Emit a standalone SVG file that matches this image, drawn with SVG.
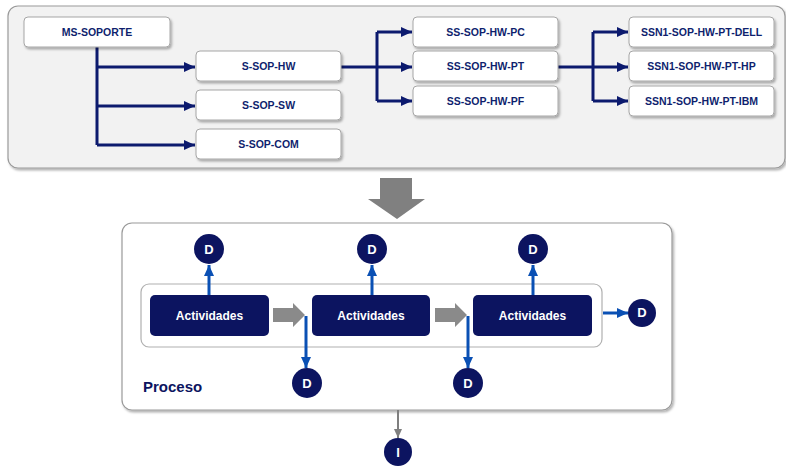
<svg xmlns="http://www.w3.org/2000/svg" width="786" height="466" viewBox="0 0 786 466">
  <defs>
    <style>
      .panel { fill: #f2f2f2; stroke: #9a9a9a; stroke-width: 1.2; }
      .box { fill: #ffffff; stroke: #a6a6a6; stroke-width: 1; }
      .lbl { font-family: "Liberation Sans", Arial, sans-serif; font-weight: bold; font-size: 10.5px; fill: #0f1f6e; text-anchor: middle; }
      .act { fill: #0c1460; }
      .actlbl { font-family: "Liberation Sans", Arial, sans-serif; font-weight: bold; font-size: 12px; fill: #ffffff; text-anchor: middle; }
      .dot { fill: #0c1460; }
      .dotlbl { font-family: "Liberation Sans", Arial, sans-serif; font-weight: bold; font-size: 13px; fill: #ffffff; text-anchor: middle; }
      .tree { fill: none; stroke: #0c1a6e; stroke-width: 3; }
      .blue { fill: none; stroke: #0a50b4; stroke-width: 3; }
      .grey { fill: none; stroke: #7f7f7f; stroke-width: 2; }
    </style>
    <filter id="shadow" x="-10%" y="-20%" width="125%" height="160%">
      <feDropShadow dx="1.5" dy="2" stdDeviation="1.2" flood-color="#000" flood-opacity="0.3"/>
    </filter>
    <marker id="navyHead" markerUnits="userSpaceOnUse" markerWidth="12" markerHeight="12" viewBox="0 0 12 12" refX="11" refY="6" orient="auto">
      <path d="M0,1 L11,6 L0,11 Z" fill="#0c1a6e"/>
    </marker>
    <marker id="blueHead" markerUnits="userSpaceOnUse" markerWidth="12" markerHeight="12" viewBox="0 0 12 12" refX="11" refY="6" orient="auto">
      <path d="M0,1 L11,6 L0,11 Z" fill="#0a50b4"/>
    </marker>
    <marker id="greyHead" markerUnits="userSpaceOnUse" markerWidth="10" markerHeight="10" viewBox="0 0 10 10" refX="9" refY="5" orient="auto">
      <path d="M0,1 L9,5 L0,9 Z" fill="#7f7f7f"/>
    </marker>
  </defs>

  <rect width="786" height="466" fill="#ffffff"/>

  <!-- upper hierarchy panel -->
  <rect class="panel" x="8" y="6" width="777" height="162" rx="10" filter="url(#shadow)"/>

  <!-- hierarchy connectors -->
  <g id="connectors">
    <path class="tree" d="M97,47 V145"/>
    <path class="tree" d="M97,67 H195" marker-end="url(#navyHead)"/>
    <path class="tree" d="M97,106 H195" marker-end="url(#navyHead)"/>
    <path class="tree" d="M97,145 H195" marker-end="url(#navyHead)"/>

    <path class="tree" d="M341,67 H377"/>
    <path class="tree" d="M377,32 V101"/>
    <path class="tree" d="M377,32 H412" marker-end="url(#navyHead)"/>
    <path class="tree" d="M377,67 H412" marker-end="url(#navyHead)"/>
    <path class="tree" d="M377,101 H412" marker-end="url(#navyHead)"/>

    <path class="tree" d="M558,67 H593"/>
    <path class="tree" d="M593,32 V101"/>
    <path class="tree" d="M593,32 H628" marker-end="url(#navyHead)"/>
    <path class="tree" d="M593,67 H628" marker-end="url(#navyHead)"/>
    <path class="tree" d="M593,101 H628" marker-end="url(#navyHead)"/>
  </g>

  <g id="ms-soporte">
    <rect class="box" x="24" y="17" width="146" height="30" rx="4" filter="url(#shadow)"/>
    <text class="lbl" x="97" y="36">MS-SOPORTE</text>
  </g>
  <g id="s-sop-hw">
    <rect class="box" x="196" y="51" width="145" height="30" rx="4" filter="url(#shadow)"/>
    <text class="lbl" x="268.5" y="70">S-SOP-HW</text>
  </g>
  <g id="s-sop-sw">
    <rect class="box" x="196" y="90" width="145" height="30" rx="4" filter="url(#shadow)"/>
    <text class="lbl" x="268.5" y="109">S-SOP-SW</text>
  </g>
  <g id="s-sop-com">
    <rect class="box" x="196" y="129" width="145" height="30" rx="4" filter="url(#shadow)"/>
    <text class="lbl" x="268.5" y="148">S-SOP-COM</text>
  </g>
  <g id="ss-sop-hw-pc">
    <rect class="box" x="413" y="17" width="145" height="30" rx="4" filter="url(#shadow)"/>
    <text class="lbl" x="485.5" y="36">SS-SOP-HW-PC</text>
  </g>
  <g id="ss-sop-hw-pt">
    <rect class="box" x="413" y="51" width="145" height="30" rx="4" filter="url(#shadow)"/>
    <text class="lbl" x="485.5" y="70">SS-SOP-HW-PT</text>
  </g>
  <g id="ss-sop-hw-pf">
    <rect class="box" x="413" y="86" width="145" height="30" rx="4" filter="url(#shadow)"/>
    <text class="lbl" x="485.5" y="105">SS-SOP-HW-PF</text>
  </g>
  <g id="ssn1-dell">
    <rect class="box" x="629" y="17" width="145" height="30" rx="4" filter="url(#shadow)"/>
    <text class="lbl" x="701.5" y="36">SSN1-SOP-HW-PT-DELL</text>
  </g>
  <g id="ssn1-hp">
    <rect class="box" x="629" y="51" width="145" height="30" rx="4" filter="url(#shadow)"/>
    <text class="lbl" x="701.5" y="70">SSN1-SOP-HW-PT-HP</text>
  </g>
  <g id="ssn1-ibm">
    <rect class="box" x="629" y="86" width="145" height="30" rx="4" filter="url(#shadow)"/>
    <text class="lbl" x="701.5" y="105">SSN1-SOP-HW-PT-IBM</text>
  </g>

  <!-- big transition arrow -->
  <path d="M380,178 H412 V199 H425 L397,219 L368,199 H380 Z" fill="#808080"/>

  <!-- process frame -->
  <g id="proceso">
    <rect x="122" y="223" width="550" height="187" rx="10" fill="#ffffff" stroke="#9a9a9a" stroke-width="1.2" filter="url(#shadow)"/>
    <rect x="141" y="284" width="461" height="63" rx="8" fill="#ffffff" stroke="#b0b0b0" stroke-width="1.2"/>
    <text x="143" y="392" font-family="Liberation Sans, Arial, sans-serif" font-weight="bold" font-size="15" fill="#0c1460">Proceso</text>
  </g>

  <!-- grey flow arrows between activities -->
  <path d="M273,308 H293 V303 L305,315 L293,327 V322 H273 Z" fill="#8a8a8a"/>
  <path d="M435,308 H455 V303 L467,315 L455,327 V322 H435 Z" fill="#8a8a8a"/>

  <g id="process-connectors">
    <path class="blue" d="M209,295 V265" marker-end="url(#blueHead)"/>
    <path class="blue" d="M372,295 V265" marker-end="url(#blueHead)"/>
    <path class="blue" d="M533,295 V265" marker-end="url(#blueHead)"/>
    <path class="blue" d="M306,316 V368" marker-end="url(#blueHead)"/>
    <path class="blue" d="M468,316 V368" marker-end="url(#blueHead)"/>
    <path class="blue" d="M603,313 H628" marker-end="url(#blueHead)"/>
    <path class="grey" d="M398,410 V438" marker-end="url(#greyHead)"/>
  </g>

  <g id="act1">
    <rect class="act" x="150" y="295" width="119" height="41" rx="5"/>
    <text class="actlbl" x="209.5" y="320">Actividades</text>
  </g>
  <g id="act2">
    <rect class="act" x="312" y="295" width="118" height="41" rx="5"/>
    <text class="actlbl" x="371" y="320">Actividades</text>
  </g>
  <g id="act3">
    <rect class="act" x="473" y="295" width="119" height="41" rx="5"/>
    <text class="actlbl" x="532.5" y="320">Actividades</text>
  </g>

  <g id="d-top1">
    <circle class="dot" cx="209" cy="249" r="15"/>
    <text class="dotlbl" x="209" y="254">D</text>
  </g>
  <g id="d-top2">
    <circle class="dot" cx="372" cy="249" r="15"/>
    <text class="dotlbl" x="372" y="254">D</text>
  </g>
  <g id="d-top3">
    <circle class="dot" cx="533" cy="249" r="15"/>
    <text class="dotlbl" x="533" y="254">D</text>
  </g>
  <g id="d-bottom1">
    <circle class="dot" cx="307" cy="383" r="15"/>
    <text class="dotlbl" x="307" y="388">D</text>
  </g>
  <g id="d-bottom2">
    <circle class="dot" cx="468" cy="383" r="15"/>
    <text class="dotlbl" x="468" y="388">D</text>
  </g>
  <g id="d-right">
    <circle class="dot" cx="642" cy="313" r="14"/>
    <text class="dotlbl" x="642" y="317" font-size="10">D</text>
  </g>
  <g id="i-out">
    <circle class="dot" cx="398" cy="452" r="14"/>
    <text class="dotlbl" x="398" y="457">I</text>
  </g>
</svg>
